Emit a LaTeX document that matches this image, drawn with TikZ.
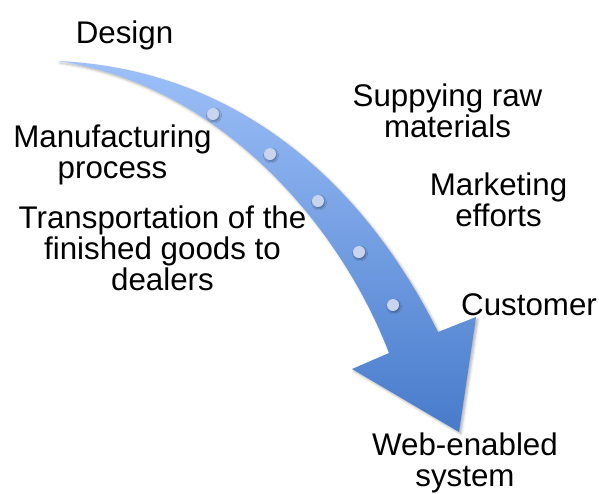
\documentclass[tikz,border=0pt]{standalone}
\usepackage{fontspec}
\setmainfont{Liberation Sans}
\usetikzlibrary{shadows.blur}
\definecolor{arrTop}{HTML}{9DC0F8}
\definecolor{arrBot}{HTML}{477BCB}
\definecolor{beadColor}{HTML}{C9D5EE}
\begin{document}
\begin{tikzpicture}[x=1pt,y=-1pt,
	stage/.style={font=\fontsize{31.3}{31}\selectfont, align=center, inner sep=0, anchor=base},
	bead/.style={fill=beadColor, blur shadow={shadow xshift=1pt, shadow yshift=-1.5pt, shadow blur radius=1.5pt, shadow opacity=35}}]
	\useasboundingbox (0,0) rectangle (599,493);
	% corners of the arrow
	\coordinate (tail) at (58,61);
	\coordinate (rbase) at (438,332);
	\coordinate (rwing) at (476,317);
	\coordinate (tip) at (459,432);
	\coordinate (lwing) at (352,369);
	\coordinate (lbase) at (389,353);
	\shade[top color=arrTop, bottom color=arrBot,
		blur shadow={shadow xshift=2pt, shadow yshift=-2pt, shadow blur radius=2.5pt, shadow opacity=30}]
		(tail) .. controls (255,70) and (375,205) .. (rbase) -- (rwing) -- (tip) -- (lwing) -- (lbase)
		.. controls (340,225) and (220,85) .. (tail) -- cycle;
	\foreach \x/\y in {213/114, 270/154, 318/201, 359/252, 393/305}
		\fill[bead] (\x,\y) circle (6pt);
	
	% base anchor sits on the last line
	\node[stage] (design) at (124.5,43) {Design};
	\node[stage] (manuf) at (112.5,178) {Manufacturing\\process};
	\node[stage] (transp) at (162.5,290) {Transportation of the\\finished goods to\\dealers};
	\node[stage] (supply) at (447.5,137) {Suppying raw\\materials};
	\node[stage] (market) at (498.5,226) {Marketing\\efforts};
	\node[stage] (cust) at (529,315) {Customer};
	\node[stage] (web) at (465,486) {Web-enabled\\system};
\end{tikzpicture}
\end{document}
